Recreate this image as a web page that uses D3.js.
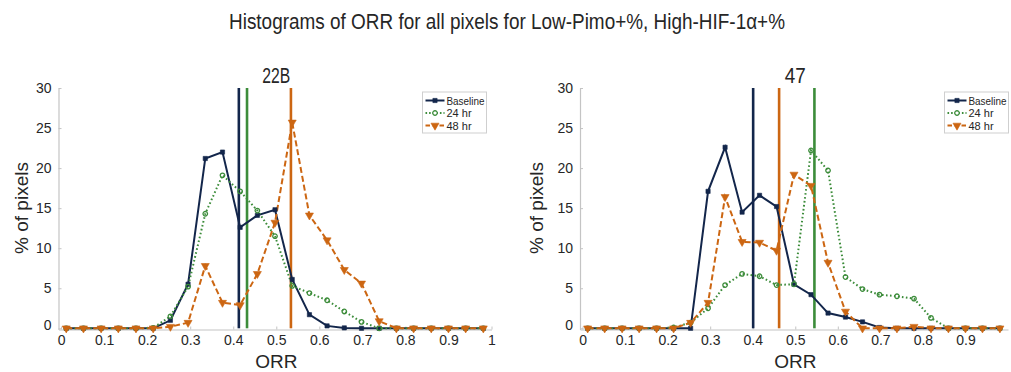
<!DOCTYPE html>
<html lang="en">
<head>
    <meta charset="UTF-8">
    <title>Histograms of ORR</title>
    <script src="https://d3js.org/d3.v7.min.js"></script>
    <style>
        body{
            margin: 0;
            background: #fff;
        }
        text{
            font-family: "Liberation Sans", Arial, sans-serif;
            fill: #262626;
        }
    </style>
</head>
<body>
    <script>
        //DATA - BIN CENTERS (ORR) AND % OF PIXELS PER BIN
        const binCenters = [0.012, 0.052, 0.093, 0.133, 0.174, 0.214, 0.254, 0.295, 0.335, 0.375, 0.416, 0.456, 0.497,
                            0.537, 0.577, 0.618, 0.658, 0.698, 0.739, 0.779, 0.819, 0.86, 0.9, 0.94, 0.981];

        //22B
        const base22B = [0, 0, 0, 0, 0, 0, 1.0, 5.5, 21.2, 22.0, 12.6, 14.1, 14.8, 6.1, 1.7, 0.3, 0.05, 0, 0, 0, 0, 0, 0, 0, 0];
        const hr24_22B = [0, 0, 0, 0, 0, 0.05, 1.5, 5.2, 14.3, 19.1, 17.1, 14.7, 11.5, 5.3, 4.4, 3.5, 2.1, 0.8, 0, 0, 0, 0, 0, 0, 0];
        const hr48_22B = [0, 0, 0, 0, 0, 0, 0.2, 0.7, 7.8, 3.2, 2.9, 6.8, 13.2, 25.7, 14.1, 11.0, 7.3, 5.6, 0.9, 0, 0, 0, 0, 0, 0];
        const means22B = [0.413, 0.432, 0.534]; //baseline, 24 hr, 48 hr

        //47
        const base47 = [0, 0, 0, 0, 0, 0, 0, 17.1, 22.6, 14.5, 16.6, 15.2, 5.5, 4.2, 1.9, 1.4, 0.8, 0.1, 0, 0, 0, 0, 0, 0, 0];
        const hr24_47 = [0, 0, 0, 0, 0, 0.1, 0.7, 2.5, 5.4, 6.8, 6.5, 5.4, 5.5, 22.2, 19.7, 6.4, 4.9, 4.2, 4.0, 3.7, 1.3, 0, 0, 0, 0];
        const hr48_47 = [0, 0, 0, 0, 0, 0, 0.7, 3.2, 16.4, 10.8, 10.7, 9.7, 19.2, 17.8, 8.2, 2.1, 0, 0, 0, 0.2, 0, 0, 0, 0, 0];
        const means47 = [0.401, 0.545, 0.462];

        //AXIS TICKS
        const xTicks = [0, 0.1, 0.2, 0.3, 0.4, 0.5, 0.6, 0.7, 0.8, 0.9, 1];
        const yTicks = [0, 5, 10, 15, 20, 25, 30];
        const seriesNames = ["Baseline", "24 hr", "48 hr"];

        //STYLE PER SERIES
        const colors = ["#13264b", "#3c8c3a", "#cc6612"];
        const dashes = [null, "1.6,2.4", "6,3"];
        const markers = [d3.symbolSquare, d3.symbolCircle, d3.symbolTriangle];

        const width = 1011;
        const height = 372;

        const svg = d3.select("body")
                    .append("svg")
                    .attr("width", width)
                    .attr("height", height);

        //MAIN TITLE
        svg.append("text")
            .attr("x", 229)
            .attr("y", 29)
            .attr("font-size", 22)
            .attr("textLength", 556)
            .attr("lengthAdjust", "spacingAndGlyphs")
            .text("Histograms of ORR for all pixels for Low-Pimo+%, High-HIF-1α+%");

        //ONE PANEL
        function drawPanel(opts){
            const x = d3.scaleLinear().domain([-0.006, 1]).range([opts.left, opts.right]);
            const y = d3.scaleLinear().domain([-0.15, 30]).range([329.5, 88]);
            const g = svg.append("g");

            //panel title
            g.append("text")
                .attr("x", x(0.5))
                .attr("y", 83)
                .attr("text-anchor", "middle")
                .attr("font-size", 22)
                .attr("textLength", opts.titleLen)
                .attr("lengthAdjust", "spacingAndGlyphs")
                .text(opts.title);

            //axes - matlab style, ticks point inward
            const xAxis = d3.axisBottom(x).tickValues(opts.xTicks).tickSizeInner(-3).tickSizeOuter(0)
                            .tickFormat(d3.format("~g"));
            const gx = g.append("g").attr("transform", "translate(0," + y(-0.15) + ")").call(xAxis);
            const yAxis = d3.axisLeft(y).tickValues(yTicks).tickSizeInner(-3).tickSizeOuter(0);
            const gy = g.append("g").attr("transform", "translate(" + opts.left + ",0)").call(yAxis);

            [gx, gy].forEach(a => {
                a.select(".domain").attr("stroke", "#c4c4c4").attr("stroke-width", 1.2);
                a.selectAll(".tick line").attr("stroke", "#c4c4c4");
                a.selectAll(".tick text")
                    .attr("font-size", 14)
                    .attr("fill", "#262626")
                    .attr("font-family", "Liberation Sans, Arial, sans-serif");
            });
            gx.selectAll(".tick text").attr("dy", "0.9em").attr("y", 3);
            gy.selectAll(".tick text").attr("x", -7);
            gy.select(".tick text").attr("dy", "0.05em"); //the 0 sits a bit higher

            //axis labels
            g.append("text")
                .attr("x", x(0.5))
                .attr("y", 368)
                .attr("text-anchor", "middle")
                .attr("font-size", 19)
                .text("ORR");
            g.append("text")
                .attr("transform", "translate(" + opts.yLabelX + ",208) rotate(-90)")
                .attr("text-anchor", "middle")
                .attr("font-size", 19)
                .text("% of pixels");

            //mean lines
            opts.means.forEach((m, i) => {
                g.append("line")
                    .attr("x1", x(m)).attr("x2", x(m))
                    .attr("y1", y(30)).attr("y2", y(0))
                    .attr("stroke", colors[i])
                    .attr("stroke-width", 2.6);
            });

            //series lines + markers
            const line = d3.line().x((d, i) => x(binCenters[i])).y(d => y(d));
            opts.series.forEach((s, k) => {
                g.append("path")
                    .datum(s)
                    .attr("fill", "none")
                    .attr("stroke", colors[k])
                    .attr("stroke-width", 2)
                    .attr("stroke-dasharray", dashes[k])
                    .attr("d", line);
            });
            opts.series.forEach((s, k) => {
                g.selectAll(null)
                    .data(s)
                    .enter()
                    .append("path")
                    .attr("transform", (d, i) => "translate(" + x(binCenters[i]) + "," + y(d) + ")" + (k == 2 ? " rotate(180)" : ""))
                    .attr("d", d3.symbol().type(markers[k]).size(k == 0 ? 18 : (k == 1 ? 16 : 28)))
                    .attr("fill", k == 1 ? "none" : colors[k])
                    .attr("stroke", colors[k])
                    .attr("stroke-width", k == 1 ? 1.3 : 0.6);
            });

            //legend
            const lg = g.append("g").attr("transform", "translate(" + opts.legendX + ",92)");
            lg.append("rect")
                .attr("x", 0).attr("y", 0)
                .attr("width", 64).attr("height", 41)
                .attr("fill", "#fff")
                .attr("stroke", "#cfcfcf")
                .attr("stroke-width", 1);
            seriesNames.forEach((name, k) => {
                const ly = 8.5 + k * 12.5;
                lg.append("line")
                    .attr("x1", 3).attr("x2", 22)
                    .attr("y1", ly).attr("y2", ly)
                    .attr("stroke", colors[k])
                    .attr("stroke-width", 2)
                    .attr("stroke-dasharray", k == 1 ? "1.6,2" : (k == 2 ? "4.5,2.5" : null));
                lg.append("path")
                    .attr("transform", "translate(12.5," + ly + ")" + (k == 2 ? " rotate(180)" : ""))
                    .attr("d", d3.symbol().type(markers[k]).size(k == 0 ? 18 : (k == 1 ? 16 : 28)))
                    .attr("fill", k == 1 ? "#fff" : colors[k])
                    .attr("stroke", colors[k])
                    .attr("stroke-width", k == 1 ? 1.3 : 0.6);
                const t = lg.append("text")
                    .attr("x", 24)
                    .attr("y", ly + 4)
                    .attr("font-size", 11)
                    .text(name);
                if (k == 0) t.attr("textLength", 38).attr("lengthAdjust", "spacingAndGlyphs");
            });
        }

        drawPanel({
            title: "22B", titleLen: 28,
            left: 58.5, right: 491.5, yLabelX: 28,
            xTicks: xTicks,
            series: [base22B, hr24_22B, hr48_22B],
            means: means22B,
            legendX: 422.5
        });

        drawPanel({
            title: "47", titleLen: 21,
            left: 580, right: 1008, yLabelX: 543,
            xTicks: xTicks.slice(0, 10), //the 1 gets cut off at the edge
            series: [base47, hr24_47, hr48_47],
            means: means47,
            legendX: 944.5
        });
    </script>
</body>
</html>
